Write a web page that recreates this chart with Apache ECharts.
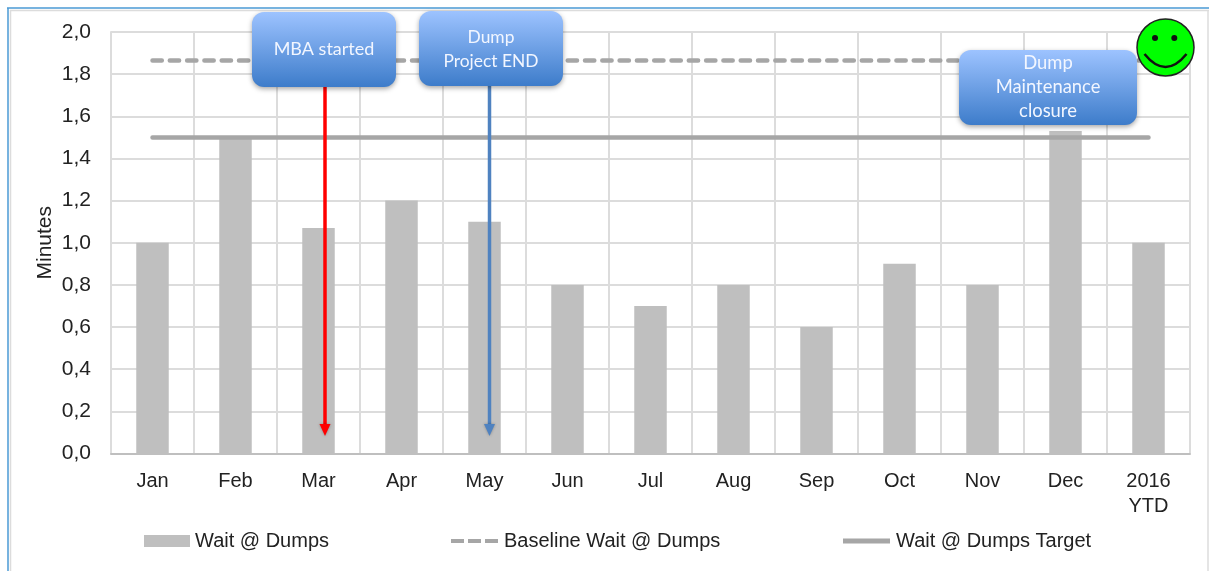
<!DOCTYPE html>
<html><head><meta charset="utf-8">
<style>html,body{margin:0;padding:0;background:#fff}#c{width:1209px;height:571px}</style>
<script src="https://cdn.jsdelivr.net/npm/echarts@6/dist/echarts.min.js"></script>
</head><body><div id="c"></div>
<script>
const categories = ['Jan','Feb','Mar','Apr','May','Jun','Jul','Aug','Sep','Oct','Nov','Dec','2016\nYTD'];
const waitDumps = [1.0,1.5,1.07,1.2,1.1,0.8,0.7,0.8,0.6,0.9,0.8,1.53,1.0];
const baselineWait = [1.865,1.865,1.865,1.865,1.865,1.865,1.865,1.865,1.865,1.865,1.865,1.865,1.865];
const targetWait = [1.5,1.5,1.5,1.5,1.5,1.5,1.5,1.5,1.5,1.5,1.5,1.5,1.5];
const FONT = '"Liberation Sans", Arial, sans-serif';
const NOTE = 'Lato, "Open Sans", sans-serif';
const chart = echarts.init(document.getElementById('c'), null, {renderer:'canvas'});
const leg = (name,left,icon,w,h,pad) => ({show:true,data:[{name,icon}],left,top:531,itemWidth:w,itemHeight:h,itemGap:0,padding:0,
  textStyle:{fontFamily:FONT,fontSize:20,color:'#222',padding:[0,0,0,pad]}});
function callout(x,y,w,h,lines,size,dy){
  return {type:'group',children:[
    {type:'rect',z:100,shape:{x,y,width:w,height:h,r:12},
     style:{fill:new echarts.graphic.LinearGradient(0,0,0,1,[{offset:0,color:'#9dc3ff'},{offset:1,color:'#3d7cca'}]),
       shadowBlur:5,shadowColor:'rgba(0,0,0,0.35)',shadowOffsetY:2}},
    {type:'text',z:101,style:{x:x+w/2,y:y+h/2+dy,text:lines,fill:'#f2f6ff',font:size+'px '+NOTE,align:'center',verticalAlign:'middle',lineHeight:24}}
  ]};
}
function arrow(x,y1,y2,color){
  return {type:'group',children:[
    {type:'line',z:90,shape:{x1:x,y1,x2:x,y2:y2-8},style:{stroke:color,lineWidth:3.5}},
    {type:'polygon',z:90,shape:{points:[[x-5.5,y2-12],[x+5.5,y2-12],[x,y2]]},style:{fill:color,shadowBlur:3,shadowColor:'rgba(0,0,0,0.3)'}}
  ]};
}
chart.setOption({
  animation:false,
  backgroundColor:'#fff',
  grid:{left:111,right:19,top:32,bottom:117.5,containLabel:false,show:false},
  legend:[
    leg('Wait @ Dumps',144,'rect',46,12,0),
    leg('Baseline Wait @ Dumps',451,'path://M0 0H13V4H0Z M17 0H30V4H17Z M34 0H47V4H34Z',47,4,1),
    leg('Wait @ Dumps Target',843,'path://M0 0H47V5H0Z',47,5,1)
  ],
  xAxis:{type:'category',data:categories,
    axisLine:{lineStyle:{color:'#bfbfbf',width:2}},axisTick:{show:false},
    axisLabel:{fontFamily:FONT,fontSize:20,color:'#222',margin:15,lineHeight:25,interval:0,verticalAlign:'top'},
    splitLine:{show:true,interval:0,lineStyle:{color:'#dcdcdc',width:2}}},
  yAxis:{type:'value',min:0,max:2,interval:0.2,name:'Minutes',nameLocation:'middle',nameGap:55,nameMoveOverlap:false,
    nameTextStyle:{fontFamily:FONT,fontSize:21,color:'#222'},
    axisLine:{show:true,lineStyle:{color:'#dcdcdc',width:2}},axisTick:{show:false},
    axisLabel:{fontFamily:FONT,fontSize:21,color:'#222',margin:20,padding:[4,0,0,0],formatter:v=>v.toFixed(1).replace('.',',')},
    splitLine:{show:true,lineStyle:{color:'#dcdcdc',width:2}}},
  series:[
    {name:'Wait @ Dumps',type:'bar',data:waitDumps,barWidth:32.5,itemStyle:{color:'#bfbfbf'},z:2},
    {name:'Baseline Wait @ Dumps',type:'line',data:baselineWait,symbol:'none',z:3,
      lineStyle:{color:'#a6a6a6',width:4.5,type:[9.3,8],cap:'round'},itemStyle:{color:'#a6a6a6'}},
    {name:'Wait @ Dumps Target',type:'line',data:targetWait,symbol:'none',z:3,
      lineStyle:{color:'#a6a6a6',width:4.5,cap:'round'},itemStyle:{color:'#a6a6a6'}}
  ],
  graphic:[
    {type:'line',z:1,shape:{x1:7,y1:8,x2:1209,y2:8},style:{stroke:'#4a9ad4',lineWidth:1.5}},
    {type:'line',z:1,shape:{x1:8,y1:8,x2:8,y2:571},style:{stroke:'#4a9ad4',lineWidth:1.5}},
    {type:'line',z:1,shape:{x1:10,y1:10.5,x2:1209,y2:10.5},style:{stroke:'#dcdcdc',lineWidth:1.5}},
    {type:'line',z:1,shape:{x1:10.5,y1:10,x2:10.5,y2:571},style:{stroke:'#dcdcdc',lineWidth:1.5}},
    {type:'line',z:1,shape:{x1:1208,y1:10,x2:1208,y2:571},style:{stroke:'#dcdcdc',lineWidth:1.5}},
    arrow(325,87,436,'#ff0000'),
    arrow(489.5,86,436,'#4f82c0'),
    callout(252,12,144,75,'MBA started',18,0),
    callout(419,11,144,75,'Dump\nProject END',17.4,1),
    callout(959,50,178,75,'Dump\nMaintenance\nclosure',18.4,0),
    {type:'group',children:[
      {type:'circle',z:110,shape:{cx:1165.5,cy:47.5,r:28.5},style:{fill:'#00ff00',stroke:'#222',lineWidth:1.5}},
      {type:'circle',z:111,shape:{cx:1155,cy:38,r:3},style:{fill:'#111'}},
      {type:'circle',z:111,shape:{cx:1174.3,cy:38,r:3},style:{fill:'#111'}},
      {type:'bezierCurve',z:111,shape:{x1:1144.5,y1:54,x2:1186.5,y2:54,cpx1:1165.5,cpy1:80},style:{stroke:'#111',lineWidth:2.5,fill:'none'}}
    ]}
  ]
});
</script></body></html>
